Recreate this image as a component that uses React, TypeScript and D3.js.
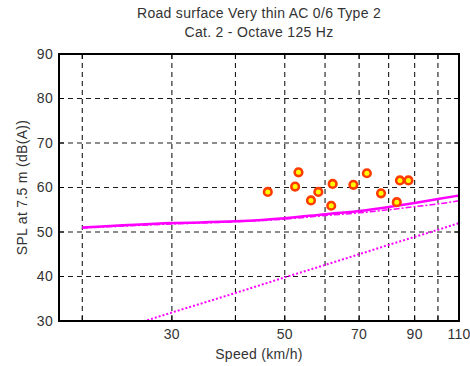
import React, { useEffect, useRef } from "react";
import * as d3 from "d3";

// measured points (speed km/h, SPL dB(A))
const pointSpeeds = [46.3, 53.2, 52.4, 58.2, 56.3, 62.1, 61.7, 68.2, 72.5, 77.3, 84.2, 87.5, 83.0];
const pointLevels = [59.0, 63.4, 60.2, 59.0, 57.1, 60.8, 55.9, 60.6, 63.2, 58.7, 61.6, 61.6, 56.7];

// fitted curves
const curveSpeeds = [20, 30, 40, 50, 60, 70, 80, 90, 100, 110];
const curveTotal = [51.0, 52.0, 52.4, 53.1, 54.0, 54.7, 55.6, 56.5, 57.4, 58.2];
const curveAlt = [50.9, 51.8, 52.3, 52.9, 53.7, 54.3, 55.0, 55.7, 56.3, 57.0];
const curveLow = [25.6, 31.9, 36.3, 39.8, 42.6, 45.0, 47.1, 48.9, 50.5, 52.0];

const xTicks = [20, 30, 40, 50, 60, 70, 80, 90, 100, 110];
const xTickLabels = [30, 50, 70, 90, 110];
const yTicks = [30, 40, 50, 60, 70, 80, 90];

const W = 470;
const H = 366;
const FONT = "'Liberation Sans', Arial, sans-serif";

const App = () => {
  const svgRef = useRef<SVGSVGElement>(null);

  useEffect(() => {
    document.body.style.margin = "0";
    const svg = d3.select(svgRef.current);
    svg.selectAll("*").remove();

    const left = 59;
    const right = 459;
    const top = 54;
    const bottom = 321;

    const x = d3.scaleLog().domain([18, 110]).range([left, right]);
    const y = d3.scaleLinear().domain([30, 90]).range([bottom, top]);

    svg.append("rect").attr("width", W).attr("height", H).attr("fill", "#fff");

    svg
      .append("defs")
      .append("clipPath")
      .attr("id", "plot-clip")
      .append("rect")
      .attr("x", left)
      .attr("y", top)
      .attr("width", right - left)
      .attr("height", bottom - top);

    // grid
    const grid = svg.append("g").attr("stroke", "#1a1a1a").attr("stroke-width", 1.1).attr("stroke-dasharray", "5,4");
    grid
      .selectAll(".vg")
      .data(xTicks)
      .enter()
      .append("line")
      .attr("x1", d => x(d))
      .attr("x2", d => x(d))
      .attr("y1", top)
      .attr("y2", bottom);
    grid
      .selectAll(".hg")
      .data(yTicks.slice(1, -1))
      .enter()
      .append("line")
      .attr("x1", left)
      .attr("x2", right)
      .attr("y1", d => y(d))
      .attr("y2", d => y(d));

    // ticks (inside, all four sides)
    const ticks = svg.append("g").attr("stroke", "#000").attr("stroke-width", 1);
    xTicks.forEach(t => {
      ticks.append("line").attr("x1", x(t)).attr("x2", x(t)).attr("y1", bottom).attr("y2", bottom - 5);
      ticks.append("line").attr("x1", x(t)).attr("x2", x(t)).attr("y1", top).attr("y2", top + 5);
    });
    yTicks.forEach(t => {
      ticks.append("line").attr("x1", left).attr("x2", left + 5).attr("y1", y(t)).attr("y2", y(t));
      ticks.append("line").attr("x1", right).attr("x2", right - 5).attr("y1", y(t)).attr("y2", y(t));
    });

    // curves
    const plot = svg.append("g").attr("clip-path", "url(#plot-clip)");
    const line = d3
      .line<number>()
      .x((d, i) => x(curveSpeeds[i]))
      .y(d => y(d))
      .curve(d3.curveMonotoneX);

    plot
      .append("path")
      .attr("d", line(curveLow) || "")
      .attr("fill", "none")
      .attr("stroke", "#ff00ff")
      .attr("stroke-width", 2)
      .attr("stroke-dasharray", "2,2");
    plot
      .append("path")
      .attr("d", line(curveAlt) || "")
      .attr("fill", "none")
      .attr("stroke", "#ff00ff")
      .attr("stroke-width", 1.5)
      .attr("stroke-dasharray", "6,2,2,2");
    plot
      .append("path")
      .attr("d", line(curveTotal) || "")
      .attr("fill", "none")
      .attr("stroke", "#ff00ff")
      .attr("stroke-width", 2.5);

    // points
    plot
      .selectAll(".pt")
      .data(pointSpeeds.map((s, i) => [s, pointLevels[i]]))
      .enter()
      .append("circle")
      .attr("cx", d => x(d[0]))
      .attr("cy", d => y(d[1]))
      .attr("r", 3.8)
      .attr("fill", "#ffff00")
      .attr("stroke", "#ff3c00")
      .attr("stroke-width", 2.6);

    // axes box
    svg
      .append("rect")
      .attr("x", left)
      .attr("y", top)
      .attr("width", right - left)
      .attr("height", bottom - top)
      .attr("fill", "none")
      .attr("stroke", "#000")
      .attr("stroke-width", 2);

    // tick labels
    const labels = svg
      .append("g")
      .attr("font-family", FONT)
      .attr("font-size", 14)
      .attr("letter-spacing", 0.3)
      .attr("fill", "#333");
    labels
      .selectAll(".yl")
      .data(yTicks)
      .enter()
      .append("text")
      .attr("x", left - 6)
      .attr("y", d => y(d))
      .attr("dy", "0.35em")
      .attr("text-anchor", "end")
      .text(d => d);
    labels
      .selectAll(".xl")
      .data(xTickLabels)
      .enter()
      .append("text")
      .attr("x", d => x(d))
      .attr("y", bottom + 18)
      .attr("text-anchor", "middle")
      .text(d => d);

    // axis titles
    labels
      .append("text")
      .attr("x", (left + right) / 2)
      .attr("y", 359)
      .attr("text-anchor", "middle")
      .text("Speed (km/h)");
    labels
      .append("text")
      .attr("transform", `translate(27,${(top + bottom) / 2}) rotate(-90)`)
      .attr("text-anchor", "middle")
      .text("SPL at 7.5 m (dB(A))");

    // title
    const title = svg
      .append("g")
      .attr("font-family", FONT)
      .attr("font-size", 14)
      .attr("letter-spacing", 0.3)
      .attr("fill", "#333")
      .attr("text-anchor", "middle");
    title.append("text").attr("x", (left + right) / 2).attr("y", 18).text("Road surface Very thin AC 0/6 Type 2");
    title.append("text").attr("x", (left + right) / 2).attr("y", 37).text("Cat. 2 - Octave 125 Hz");
  }, []);

  return <svg ref={svgRef} width={W} height={H} style={{ display: "block" }} />;
};

export default App;
